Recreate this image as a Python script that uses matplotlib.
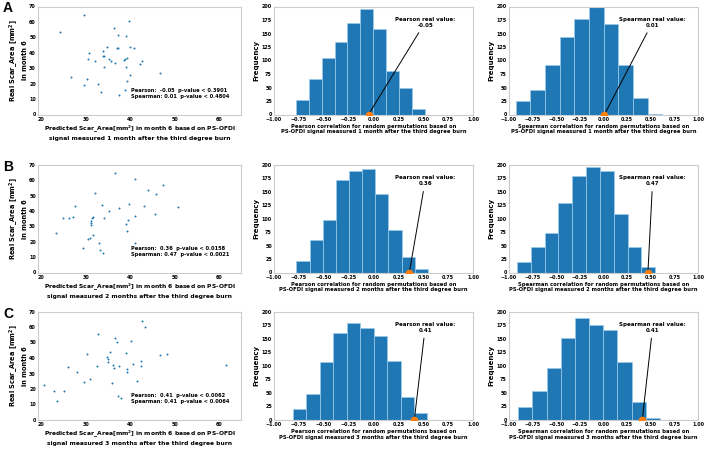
import matplotlib
matplotlib.use("Agg")
import matplotlib.pyplot as plt

# ---- scatter data: predicted vs real scar area (month 6) ----
pred_1m = [24.3, 29.6, 26.8, 29.6, 30.4, 30.5, 30.8, 32.1, 32.7, 33.4, 33.8, 34.0, 34.1,
           34.2, 34.7, 35.3, 35.7, 36.3, 36.7, 37.1, 37.3, 37.3, 37.4, 38.6, 38.8, 39.0,
           38.9, 39.1, 39.2, 39.3, 39.7, 39.9, 40.0, 40.8, 42.3, 42.7, 46.6]
real_1m = [53.4, 64.4, 24.4, 19.2, 22.7, 35.9, 40.0, 35.0, 19.7, 14.5, 41.0, 38.0, 38.2,
           31.1, 44.0, 35.9, 35.0, 56.2, 33.7, 43.2, 51.4, 43.0, 12.5, 35.4, 36.1, 31.1,
           16.0, 51.0, 36.5, 21.8, 60.5, 25.5, 43.9, 42.8, 32.8, 35.0, 27.0]

pred_2m = [23.3, 24.9, 26.3, 27.1, 27.5, 29.3, 30.5, 31.0, 31.1, 31.1, 31.1, 31.5, 31.7,
           31.6, 32.0, 32.9, 33.3, 33.6, 33.8, 34.2, 35.3, 36.5, 37.6, 39.1, 39.2, 39.5,
           39.7, 41.0, 41.0, 41.2, 43.2, 44.0, 45.5, 45.9, 47.4, 50.7]
real_2m = [25.6, 35.2, 35.2, 36.1, 43.3, 16.0, 21.7, 22.3, 31.1, 32.2, 33.3, 35.7, 36.3,
           24.7, 51.8, 19.3, 14.4, 44.2, 12.7, 35.4, 40.3, 64.8, 41.8, 31.3, 27.3, 33.9,
           44.6, 61.0, 36.5, 19.3, 43.5, 53.8, 38.3, 51.4, 56.7, 42.9]

pred_3m = [20.6, 22.9, 23.6, 25.2, 26.0, 28.1, 29.6, 30.2, 30.9, 32.6, 32.7, 34.9, 35.0,
           35.0, 35.5, 36.0, 36.1, 36.4, 36.7, 37.1, 37.3, 37.4, 38.0, 39.1, 39.3, 39.4,
           40.2, 40.6, 41.5, 42.5, 42.5, 42.7, 43.3, 46.7, 48.3, 61.5]
real_3m = [22.3, 18.6, 12.1, 19.0, 34.4, 30.7, 24.2, 42.6, 26.6, 35.0, 55.5, 40.8, 39.4,
           37.6, 43.6, 23.8, 35.4, 33.5, 52.9, 50.5, 15.8, 34.6, 14.0, 43.4, 31.1, 32.6,
           51.2, 35.9, 25.1, 38.0, 34.6, 63.7, 60.1, 42.1, 42.3, 35.4]

pearson_r = [-0.05, 0.36, 0.41]
pearson_p = ["0.3901", "0.0158", "0.0062"]
spearman_r = [0.01, 0.47, 0.41]
spearman_p = ["0.4804", "0.0021", "0.0064"]

# ---- permutation histograms (bin edges + counts) ----
pearson_edges = [
    [-0.782, -0.650, -0.520, -0.390, -0.262, -0.133, -0.003, 0.126, 0.255, 0.384, 0.514],
    [-0.776, -0.643, -0.510, -0.378, -0.248, -0.116, 0.017, 0.150, 0.282, 0.415, 0.548],
    [-0.813, -0.677, -0.541, -0.405, -0.269, -0.133, 0.003, 0.139, 0.276, 0.412, 0.541],
]
pearson_counts = [
    [27, 65, 105, 134, 169, 195, 158, 81, 50, 10],
    [22, 61, 98, 172, 189, 193, 146, 79, 29, 7],
    [20, 48, 106, 160, 178, 169, 154, 108, 42, 13],
]
spearman_edges = [
    [-0.929, -0.773, -0.620, -0.464, -0.307, -0.155, 0.002, 0.155, 0.311, 0.467, 0.620],
    [-0.918, -0.769, -0.623, -0.478, -0.329, -0.183, -0.037, 0.108, 0.254, 0.400, 0.545],
    [-0.908, -0.755, -0.602, -0.453, -0.300, -0.151, -0.002, 0.147, 0.297, 0.446, 0.599],
]
spearman_counts = [
    [25, 46, 92, 143, 176, 228, 167, 91, 31, 1],
    [20, 47, 73, 129, 180, 196, 188, 109, 47, 10],
    [24, 54, 96, 151, 188, 176, 165, 106, 33, 4],
]

months = ["1 month", "2 months", "3 months"]
letters = ["A", "B", "C"]
scatter_x = [pred_1m, pred_2m, pred_3m]
scatter_y = [real_1m, real_2m, real_3m]

W, H = 705, 449
fig = plt.figure(figsize=(W / 100, H / 100), dpi=100)

# panel positions in pixels (left, right) and (top, bottom)
cols = [(38, 241), (274, 473), (509, 698)]
rows = [(6.5, 114.5), (165, 272.5), (311.5, 420)]


def make_ax(col, row):
    l, r = col
    t, b = row
    ax = fig.add_axes([l / W, 1 - b / H, (r - l) / W, (b - t) / H])
    for s in ax.spines.values():
        s.set_color("#cccccc")
        s.set_linewidth(0.8)
    ax.tick_params(length=0, pad=1.5, labelsize=3.5)
    return ax


def bold_ticks(ax):
    for lab in ax.get_xticklabels() + ax.get_yticklabels():
        lab.set_fontweight("bold")


def hist_panel(ax, edges, counts, r, name, month):
    widths = [edges[i + 1] - edges[i] for i in range(len(counts))]
    ax.bar(edges[:-1], counts, width=widths, align="edge", color="#1f77b4",
           edgecolor="#9ccbec", linewidth=0.5)
    ax.plot([r], [0], "o", color="#ff7f0e", markersize=4.5, zorder=5)
    ax.annotate(f"{name} real value:\n{r:.2f}", xy=(r, 0), xytext=(0.52, 171),
                ha="center", va="center", fontsize=4, fontweight="bold",
                arrowprops=dict(arrowstyle="-", color="black", lw=0.7))
    ax.set_xlim(-1, 1)
    ax.set_ylim(0, 200)
    ax.set_xticks([-1, -0.75, -0.5, -0.25, 0, 0.25, 0.5, 0.75, 1])
    ax.set_xticklabels(["−1.00", "−0.75", "−0.50", "−0.25", "0.00", "0.25", "0.50", "0.75", "1.00"])
    ax.set_yticks(range(0, 201, 25))
    bold_ticks(ax)
    ax.set_ylabel("Frequency", fontsize=5, fontweight="bold", labelpad=2)
    ax.set_xlabel(f"{name} correlation for random permutations based on\n"
                  f"PS-OFDI signal measured {month} after the third degree burn",
                  fontsize=3.8, fontweight="bold", labelpad=1.5, linespacing=1.2)


for i in range(3):
    # scatter plot
    ax = make_ax(cols[0], rows[i])
    ax.scatter(scatter_x[i], scatter_y[i], s=2, color="#1f77b4", linewidths=0)
    ax.set_xlim(19.3, 64.9)
    ax.set_ylim(0, 70)
    ax.set_xticks([20, 30, 40, 50, 60])
    ax.set_yticks(range(0, 71, 10))
    bold_ticks(ax)
    ax.text(40.1, 13.8,
            f"Pearson:  {pearson_r[i]:.2f}  p-value < {pearson_p[i]}\n"
            f"Spearman: {spearman_r[i]:.2f}  p-value < {spearman_p[i]}",
            fontsize=3.7, fontweight="bold", va="center", ha="left", linespacing=1.3)
    ax.set_ylabel("Real Scar_Area [mm$^\\mathbf{2}$]\nin month 6", fontsize=4.8,
                  fontweight="bold", labelpad=1, linespacing=1.1)
    ax.set_xlabel("Predicted Scar_Area[mm$^\\mathbf{2}$] in month 6 based on PS-OFDI\n"
                  f"signal measured {months[i]} after the third degree burn",
                  fontsize=4.3, fontweight="bold", labelpad=1.5, linespacing=1.2)

    # panel letter
    fig.text(3 / W, 1 - (rows[i][0] + 2) / H, letters[i], fontsize=10,
             fontweight="bold", family="Liberation Sans", va="center", ha="left")

    # permutation histograms
    hist_panel(make_ax(cols[1], rows[i]), pearson_edges[i], pearson_counts[i],
               pearson_r[i], "Pearson", months[i])
    hist_panel(make_ax(cols[2], rows[i]), spearman_edges[i], spearman_counts[i],
               spearman_r[i], "Spearman", months[i])

fig.savefig("out.png", dpi=100)
